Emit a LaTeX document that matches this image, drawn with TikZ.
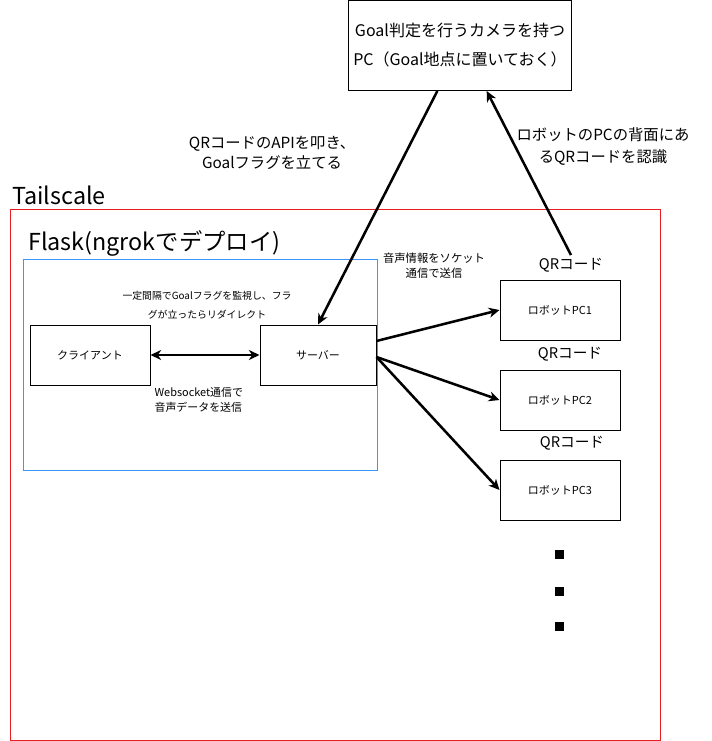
\documentclass[tikz,border=0pt]{standalone}
\usepackage{fontspec}
\setmainfont{Noto Sans CJK JP}
\usepackage{tikz}
\usetikzlibrary{arrows.meta}

\definecolor{tsred}{RGB}{230,30,30}
\definecolor{flaskblue}{RGB}{60,150,255}

\tikzset{
  tip/.tip={Stealth[length=8pt,width=7.5pt,inset=2.5pt]},
  box/.style={draw, line width=0.75pt, minimum width=90pt, minimum height=45pt,
    font=\fontsize{8.25}{10}\selectfont},
  conn/.style={line width=1.9pt, -tip},
  biconn/.style={line width=1.9pt, tip-tip},
  note/.style={align=center, inner sep=1pt}
}

\begin{document}
\begin{tikzpicture}[x=0.75pt, y=-0.75pt]
      \useasboundingbox (0,0) rectangle (711,741);
      % containers
      \draw[tsred, line width=0.75pt] (10,210) rectangle (660,740);
      \draw[flaskblue, line width=0.75pt] (23,260) rectangle (377,470);
      \node[anchor=base west, inner sep=0pt, font=\fontsize{17.5}{20}\selectfont] (tslabel) at (12,205) {Tailscale};
      \node[anchor=base west, inner sep=0pt, font=\fontsize{17.5}{20}\selectfont] (flasklabel) at (28,251) {Flask(ngrokでデプロイ)};
      % goal pc
      \node[box, minimum width=165pt, minimum height=67.5pt, align=center,
            font=\fontsize{12}{21.75}\selectfont] (goal) at (460,45.5)
            {Goal判定を行うカメラを持つ\\PC（Goal地点に置いておく）};
      % client and server
      \node[box] (client) at (90,355) {クライアント};
      \node[box, minimum width=87pt] (server) at (318,355) {サーバー};
      % robots
      \node[box] (robot1) at (560,310) {ロボットPC1};
      \node[box] (robot2) at (560,400) {ロボットPC2};
      \node[box] (robot3) at (560,490) {ロボットPC3};
      \node[inner sep=2pt, font=\fontsize{11}{13}\selectfont] (qr1) at (571,265) {QRコード};
      \node[inner sep=2pt, font=\fontsize{11}{13}\selectfont] (qr2) at (570,354) {QRコード};
      \node[inner sep=2pt, font=\fontsize{11}{13}\selectfont] (qr3) at (572,443) {QRコード};
      % labels
      \node[note, font=\fontsize{11.5}{15}\selectfont] (apilabel) at (272,153)
            {QRコードのAPIを叩き、\\Goalフラグを立てる};
      \node[note, font=\fontsize{11.5}{17}\selectfont] (scanlabel) at (603,146.5)
            {ロボットのPCの背面にあ\\るQRコードを認識};
      \node[note, font=\fontsize{7.4}{14.25}\selectfont] (pollabel) at (207,305.5)
            {一定間隔でGoalフラグを監視し、フラ\\グが立ったらリダイレクト};
      \node[note, font=\fontsize{8.5}{11.25}\selectfont] (socklabel) at (434,265.5)
            {音声情報をソケット\\通信で送信};
      \node[note, align=left, anchor=west, font=\fontsize{8.2}{11.25}\selectfont] (wslabel) at (153,399.5)
            {Websocket通信で\\音声データを送信};
      % connectors
      \draw[conn] ([xshift=-17pt]goal.south) -- (server.north);
      \draw[conn] (qr1.north) -- ([xshift=20pt]goal.south);
      \draw[biconn] (client.east) -- (server.west);
      \draw[conn] ([yshift=10.5pt]server.east) -- (robot1.west);
      \draw[conn] ([yshift=-1.5pt]server.east) -- (robot2.west);
      \draw[conn] ([yshift=-1.5pt]server.east) -- (robot3.west);
      % more robots
      \fill (555,549.5) rectangle (564,558.5);
      \fill (555,586.5) rectangle (564,595.5);
      \fill (555,621.5) rectangle (564,630.5);
\end{tikzpicture}
\end{document}
